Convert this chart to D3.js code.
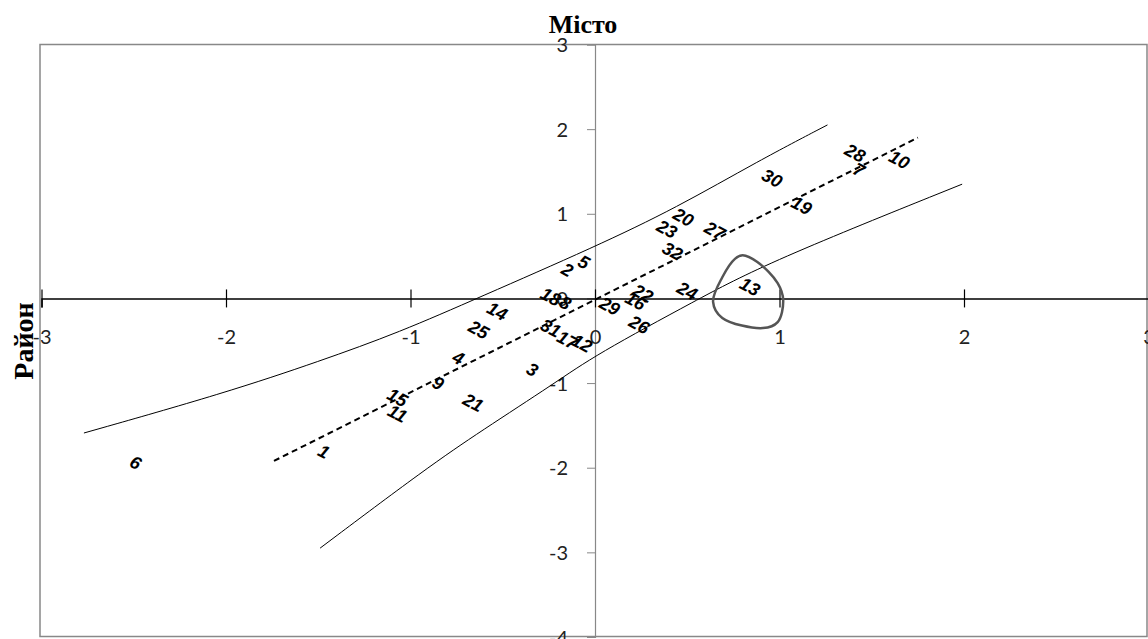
<!DOCTYPE html>
<html>
<head>
<meta charset="utf-8">
<script src="https://cdn.jsdelivr.net/npm/d3@7"></script>
<style>
  body { margin: 0; background: #fff; }
  .tick text { font-family: Lato, "Open Sans", sans-serif; font-size: 20px; fill: #222; }
  .lbl { font-family: "Liberation Sans", Arial, sans-serif; font-size: 18px; font-weight: bold; font-style: italic; }
</style>
</head>
<body>
<div id="chart"></div>
<script>
// point labels and coordinates
var ids = [28, 10, 7, 30, 19, 20, 23, 27, 32, 5, 2, 13, 24, 22, 16, 29, 18, 8, 14, 25, 31, 17, 12, 26, 4, 3, 9, 15, 11, 21, 1, 6];
var xs = [1.41, 1.65, 1.43, 0.96, 1.12, 0.48, 0.39, 0.65, 0.42, -0.06, -0.15, 0.84, 0.50, 0.26, 0.22, 0.08, -0.24, -0.16, -0.53, -0.63, -0.24, -0.15, -0.07, 0.24, -0.74, -0.34, -0.85, -1.07, -1.07, -0.66, -1.47, -2.49];
var ys = [1.72, 1.64, 1.52, 1.42, 1.10, 0.96, 0.82, 0.80, 0.56, 0.43, 0.34, 0.14, 0.09, 0.06, -0.03, -0.09, 0.02, -0.05, -0.15, -0.37, -0.35, -0.49, -0.53, -0.31, -0.70, -0.84, -1.00, -1.17, -1.36, -1.23, -1.81, -1.94];

// regression line (dashed)
var fitX = [-1.74, 1.75];
var fitY = [-1.92, 1.90];

// upper and lower band curves
var upX = [-2.77, -2.01, -1.49, -1.06, -0.63, 0, 0.44, 0.89, 1.26];
var upY = [-1.59, -1.12, -0.74, -0.40, 0.01, 0.61, 1.07, 1.63, 2.05];
var loX = [-1.49, -0.91, -0.62, -0.21, 0, 0.55, 0.93, 1.99];
var loY = [-2.95, -2.00, -1.57, -0.99, -0.67, -0.02, 0.42, 1.35];

// hand-drawn outline round point 13
var blobX = [0.80, 0.88, 0.99, 1.02, 0.99, 0.91, 0.69, 0.64, 0.69, 0.76];
var blobY = [0.51, 0.43, 0.18, -0.02, -0.28, -0.35, -0.23, -0.04, 0.25, 0.47];

var xTicks = [-3, -2, -1, 0, 1, 2, 3];
var yTicks = [-4, -3, -2, -1, 0, 1, 2, 3];

var width = 1148, height = 639;
var svg = d3.select('#chart').append('svg')
            .attr('width', width).attr('height', height);

var x = d3.scaleLinear().domain([-3, 3]).range([41.5, 1148.5]);
var y = d3.scaleLinear().domain([-4, 3]).range([637, 44.5]);

// plot border
svg.append('rect').attr('x', 40).attr('y', 44.5).attr('width', 1107).attr('height', 592)
   .attr('fill', 'none').attr('stroke', '#888').attr('stroke-width', 1.5);

var fmt = function(d){ return String(d); };

// y axis (grey, crossing at x=0)
var yAxis = svg.append('g').attr('transform', 'translate(' + x(0) + ',0)')
  .call(d3.axisLeft(y).tickValues(yTicks).tickSize(8).tickPadding(19).tickFormat(fmt));
yAxis.select('.domain').attr('stroke', '#888').attr('stroke-width', 1.2);
yAxis.selectAll('.tick line').attr('stroke', '#888');
yAxis.selectAll('.tick text').attr('dy', '0.36em');

// x axis (black, crossing at y=0)
var xAxis = svg.append('g').attr('transform', 'translate(0,' + y(0) + ')')
  .call(d3.axisBottom(x).tickValues(xTicks).tickSize(9).tickPadding(22).tickFormat(fmt));
xAxis.select('.domain').attr('stroke', '#000').attr('stroke-width', 1.5);
xAxis.selectAll('.tick line').attr('y1', -9).attr('y2', 9).attr('stroke', '#000').attr('stroke-width', 1.2);

var line = d3.line().x(function(d){ return x(d[0]); }).y(function(d){ return y(d[1]); });
var smooth = d3.line().curve(d3.curveBasis).x(function(d){ return x(d[0]); }).y(function(d){ return y(d[1]); });

svg.append('path').attr('d', smooth(d3.zip(upX, upY)))
   .attr('fill', 'none').attr('stroke', '#000').attr('stroke-width', 1);
svg.append('path').attr('d', smooth(d3.zip(loX, loY)))
   .attr('fill', 'none').attr('stroke', '#000').attr('stroke-width', 1);
svg.append('path').attr('d', line(d3.zip(fitX, fitY)))
   .attr('fill', 'none').attr('stroke', '#000').attr('stroke-width', 2)
   .attr('stroke-dasharray', '6,4');

// labels
svg.append('g').selectAll('text').data(d3.range(ids.length)).enter()
  .append('text').classed('lbl', true)
  .attr('text-anchor', 'middle').attr('dy', '0.35em')
  .attr('transform', function(i){ return 'translate(' + x(xs[i]) + ',' + y(ys[i]) + ') rotate(28)'; })
  .text(function(i){ return ids[i]; });

// outline round 13
svg.append('path')
   .attr('d', d3.line().curve(d3.curveCatmullRomClosed).x(function(d){ return x(d[0]); }).y(function(d){ return y(d[1]); })(d3.zip(blobX, blobY)))
   .attr('fill', 'none').attr('stroke', '#555').attr('stroke-width', 2.5);

// titles
svg.append('text').attr('x', 583).attr('y', 33).attr('text-anchor', 'middle')
   .style('font-family', '"Liberation Serif", "Times New Roman", serif').style('font-weight', 'bold').style('font-size', '26px')
   .text('Місто');
svg.append('text').attr('transform', 'translate(33,341) rotate(-90)').attr('text-anchor', 'middle')
   .style('font-family', '"Liberation Serif", "Times New Roman", serif').style('font-weight', 'bold').style('font-size', '28px')
   .text('Район');
</script>
</body>
</html>
